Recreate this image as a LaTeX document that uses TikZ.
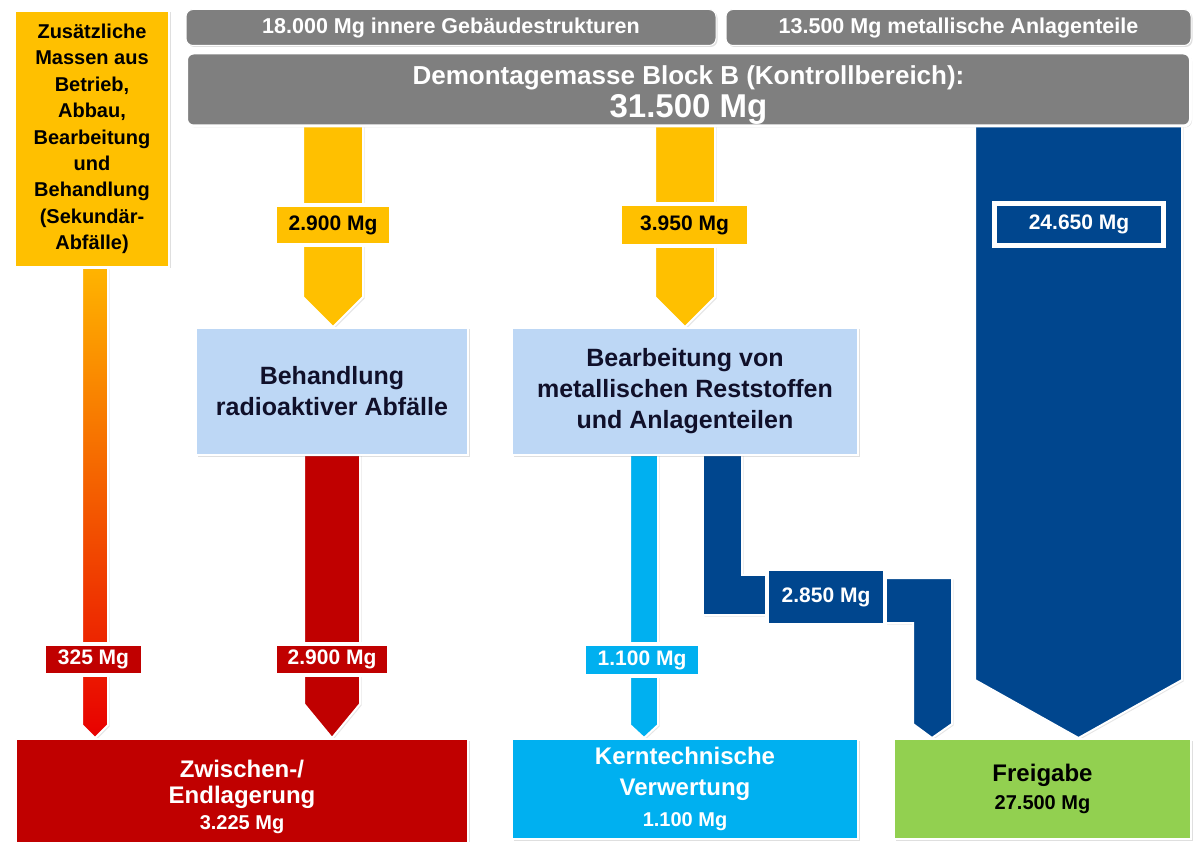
\documentclass[tikz,border=0pt]{standalone}
\usepackage{fontspec}
\setmainfont{Liberation Sans}
\usetikzlibrary{calc,shadows}
\definecolor{massYellow}{HTML}{FFC000}
\definecolor{massRed}{HTML}{C00000}
\definecolor{massBlue}{HTML}{00468E}
\definecolor{massCyan}{HTML}{00B0F0}
\definecolor{massGreen}{HTML}{92D050}
\definecolor{massGrey}{HTML}{7F7F7F}
\definecolor{stepBlue}{HTML}{BDD7F5}
\definecolor{inkNavy}{HTML}{10102A}
\definecolor{gradTop}{HTML}{FFB400}
\definecolor{gradMid}{HTML}{FF6400}
\definecolor{gradBot}{HTML}{E80000}
\pgfdeclarelayer{bg}
\pgfsetlayers{bg,main}
\tikzset{
boxMe/.style={draw=white, line width=2pt, inner sep=2pt, align=center,
    font=\bfseries, drop shadow={opacity=0.25, shadow xshift=1.5pt, shadow yshift=-1.5pt}},
barMe/.style={boxMe, fill=massGrey, text=white, rounded corners=7pt},
tagMe/.style={boxMe, line width=4pt, font=\bfseries\fontsize{21}{25}\selectfont},
flowMe/.style={draw=white, line width=2pt,
    drop shadow={opacity=0.2, shadow xshift=1.5pt, shadow yshift=-1.5pt}}}
\newcommand{\flowArrow}[6]{%
  \coordinate (fs) at (#2,0 |- #5);
  \coordinate (ft) at (#2,0 |- #6);
  \path[#1] ($(fs)+(-#3,0)$) -- ($(fs)+(#3,0)$) -- ($(ft)+(#3,-#4)$) -- (ft)
    -- ($(ft)+(-#3,-#4)$) -- cycle;}

\begin{document}
\begin{tikzpicture}[x=1pt, y=-1pt]
    \useasboundingbox (0,0) rectangle (1195,842);
    \node[boxMe, fill=massYellow, text=black, minimum width=154pt, minimum height=256pt,
        font=\bfseries\fontsize{20}{26.4}\selectfont] (extra) at (92,139)
        {Zusätzliche\\Massen aus\\Betrieb,\\Abbau,\\Bearbeitung\\und\\Behandlung\\(Sekundär-\\Abfälle)};
    \node[barMe, line width=1pt, minimum width=530pt, minimum height=36pt,
        font=\bfseries\fontsize{21.5}{25}\selectfont] (inner) at (451,27.5) {18.000 Mg innere Gebäudestrukturen};
    \node[barMe, line width=1pt, minimum width=465pt, minimum height=36pt,
        font=\bfseries\fontsize{21.5}{25}\selectfont] (metal) at (958.5,27.5) {13.500 Mg metallische Anlagenteile};
    \node[barMe, line width=3pt, minimum width=1004pt, minimum height=72pt,
        font=\bfseries\fontsize{26}{31}\selectfont] (demo) at (688.5,89.5)
        {\vrule height 29pt width 0pt Demontagemasse Block B (Kontrollbereich):\\[2pt]{\fontsize{33}{34}\selectfont 31.500 Mg}};
    \node[boxMe, fill=stepBlue, text=inkNavy, minimum width=272pt, minimum height=127pt,
        font=\bfseries\fontsize{25}{31}\selectfont] (behandlung) at (332,391.5)
        {Behandlung\\radioaktiver Abfälle};
    \node[boxMe, fill=stepBlue, text=inkNavy, minimum width=346pt, minimum height=127pt,
        font=\bfseries\fontsize{25}{31}\selectfont] (bearbeitung) at (685,391.5)
        {Bearbeitung von\\metallischen Reststoffen\\und Anlagenteilen};
    \node[boxMe, fill=massRed, text=white, minimum width=452pt, minimum height=116pt,
        font=\bfseries\fontsize{24}{26}\selectfont] (zwischen) at (242,797)
        {Zwischen-/\\Endlagerung\\{\fontsize{20}{24}\selectfont 3.225 Mg}};
    \node[boxMe, fill=massCyan, text=white, minimum width=346pt, minimum height=100pt,
        font=\bfseries\fontsize{24}{31}\selectfont] (kern) at (685,789)
        {Kerntechnische\\Verwertung\\{\fontsize{20}{24}\selectfont 1.100 Mg}};
    \node[boxMe, fill=massGreen, text=black, minimum width=297pt, minimum height=100pt,
        font=\bfseries\fontsize{24}{28}\selectfont] (freigabe) at (1042.5,789)
        {Freigabe\\{\fontsize{20}{24}\selectfont 27.500 Mg}};
    \begin{pgfonlayer}{bg}
        \fill[white] (0,0) rectangle (1195,842);
        \flowArrow{flowMe, top color=gradTop, middle color=gradMid, bottom color=gradBot}{95}{13}{13}{extra.south}{zwischen.north}
        \flowArrow{flowMe, fill=massYellow}{333}{30}{30}{demo.center}{behandlung.north}
        \flowArrow{flowMe, fill=massYellow}{685}{30}{30}{demo.center}{bearbeitung.north}
        \flowArrow{flowMe, fill=massRed}{332}{28}{34}{behandlung.center}{zwischen.north}
        \flowArrow{flowMe, fill=massCyan}{644}{14}{13}{bearbeitung.center}{kern.north}
        \flowArrow{flowMe, fill=massBlue}{1078.5}{103.5}{58}{demo.center}{freigabe.north}
        \path[flowMe, fill=massBlue] (703,0 |- bearbeitung.center) -- (742,0 |- bearbeitung.center)
            -- (742,575) -- (800,575) -- (800,615) -- (703,615) -- cycle;
        \path[flowMe, fill=massBlue] (850,578) -- (952,578) -- ($(952,0 |- freigabe.north)+(0,-14)$)
            -- (932,0 |- freigabe.north) -- ($(913,0 |- freigabe.north)+(0,-14)$) -- (913,623) -- (850,623) -- cycle;
    \end{pgfonlayer}
    \node[tagMe, fill=massYellow, text=black, minimum width=116pt, minimum height=40pt] (tagA) at (333,225) {2.900 Mg};
    \node[tagMe, fill=massYellow, text=black, minimum width=129pt, minimum height=42pt] (tagB) at (684.5,225) {3.950 Mg};
    \node[tagMe, fill=massBlue, text=white, line width=5pt, minimum width=169pt, minimum height=42pt] (tagC) at (1079,224.5) {24.650 Mg};
    \node[tagMe, fill=massRed, text=white, minimum width=99pt, minimum height=31pt] (tagD) at (93.5,659.5) {325 Mg};
    \node[tagMe, fill=massRed, text=white, minimum width=114pt, minimum height=31pt] (tagE) at (332,659.5) {2.900 Mg};
    \node[tagMe, fill=massCyan, text=white, minimum width=116pt, minimum height=32pt] (tagF) at (642,660) {1.100 Mg};
    \node[tagMe, fill=massBlue, text=white, minimum width=118pt, minimum height=56pt] (tagG) at (826,597) {2.850 Mg};
\end{tikzpicture}
\end{document}
